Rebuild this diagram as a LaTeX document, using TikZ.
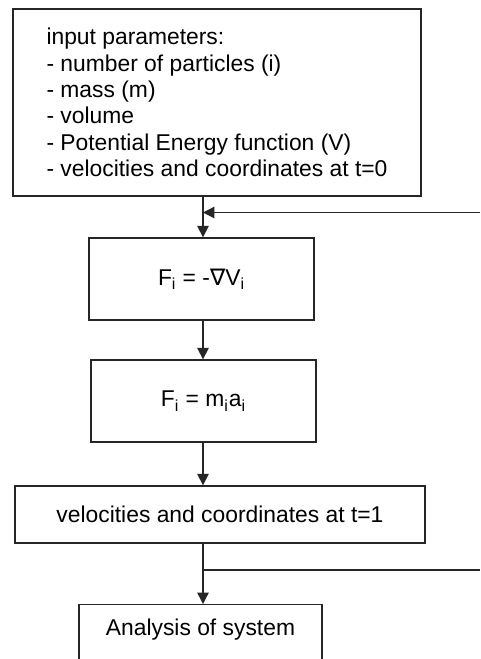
\documentclass[tikz,border=0pt]{standalone}
\usepackage{fontspec}
\setmainfont{Liberation Sans}
\newfontfamily\symfont{DejaVu Sans}
\usetikzlibrary{positioning, arrows.meta}

\begin{document}
\begin{tikzpicture}[
  font=\fontsize{13pt}{15pt}\selectfont,
  >={Triangle[length=6.5pt, width=6.5pt]},
  arr/.style={->, line width=0.75pt, draw=black!85},
  ln/.style={line width=0.75pt, draw=black!85},
  blk/.style={draw=black!85, line width=0.75pt, fill=white, align=center,
              inner sep=3pt},
]

\useasboundingbox (0,0) rectangle (9.6,-13.18);
\clip (0,0) rectangle (9.6,-13.18);

%% ===== BOXES =====

\node[blk, align=left, minimum width=8.16cm, minimum height=3.74cm] (inp) at (4.34,-2.05)
    {input parameters:\\
     - number of particles (i)\\
     - mass (m)\\
     - volume\\
     - Potential Energy function (V)\\
     - velocities and coordinates at t=0};

\node[blk, minimum width=4.5cm, minimum height=1.64cm] (grad) at (4.03,-5.58)
    {F\textsubscript{i} = -{\symfont ∇}V\textsubscript{i}};

\node[blk, minimum width=4.5cm, minimum height=1.64cm] (newton) at (4.07,-8.02)
    {F\textsubscript{i} = m\textsubscript{i}a\textsubscript{i}};

\node[blk, minimum width=8.2cm, minimum height=1.14cm] (vel) at (4.40,-10.29)
    {velocities and coordinates at t=1};

\node[blk, anchor=north, minimum width=4.86cm, minimum height=1.64cm] (ana) at (4.01,-12.08)
    {Analysis of system\\[2pt]\strut};

%% ===== ARROWS =====

\coordinate (spine) at (4.06,0);
\coordinate (fbin)  at (9.6,-4.25);
\coordinate (fbout) at (9.6,-11.40);

\draw[arr] (inp.south -| spine)  -- (grad.north -| spine);
\draw[arr] (fbin) -- (spine |- fbin);
\draw[arr] (grad.south -| spine) -- (newton.north -| spine);
\draw[arr] (newton.south -| spine) -- (vel.north -| spine);
\draw[arr] (vel.south -| spine)  -- (ana.north -| spine);
\draw[ln]  (spine |- fbout) -- (fbout);

\end{tikzpicture}
\end{document}
